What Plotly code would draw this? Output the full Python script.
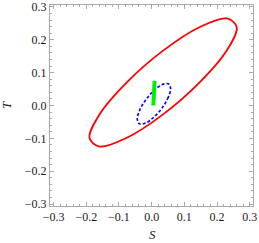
import plotly.graph_objects as go

# Red (outer) contour points
red_s = [0.260, 0.230, 0.1475, 0.035, -0.0775, -0.160, -0.190, -0.160, -0.0775, 0.035, 0.1475, 0.230, 0.260]
red_t = [0.239, 0.168, 0.071, -0.027, -0.099, -0.125, -0.099, -0.028, 0.069, 0.167, 0.239, 0.265, 0.239]

# Blue (dashed) contour points
blue_s = [0.058, 0.051, 0.0325, 0.007, -0.0185, -0.0372, -0.044, -0.0372, -0.0185, 0.007, 0.0325, 0.051, 0.058]
blue_t = [0.052, 0.0255, -0.0065, -0.0354, -0.0536, -0.056, -0.042, -0.0155, 0.0165, 0.0454, 0.0636, 0.066, 0.052]

# Green (narrow) region
green_s = [0.005, 0.009]
green_t = [0.000, 0.075]

tick_vals = [-0.3, -0.2, -0.1, 0.0, 0.1, 0.2, 0.3]

fig = go.Figure()
fig.add_trace(go.Scatter(x=red_s, y=red_t, mode="lines", line=dict(color="#ff0000", width=1.8, shape="spline"), hoverinfo="skip"))
fig.add_trace(go.Scatter(x=blue_s, y=blue_t, mode="lines", line=dict(color="#0000ff", width=1.6, dash="3px,2px", shape="spline"), hoverinfo="skip"))
fig.add_trace(go.Scatter(x=green_s, y=green_t, mode="lines", line=dict(color="#00ee00", width=4), hoverinfo="skip"))

axis_common = dict(
    showgrid=False, zeroline=False, automargin=False,
    showline=True, linecolor="#aaaaaa", linewidth=1, mirror="ticks",
    ticks="inside", ticklen=4, tickcolor="#aaaaaa", tickwidth=1,
    tickvals=tick_vals, tickformat=".1f",
    minor=dict(ticks="inside", ticklen=2, tickcolor="#aaaaaa", dtick=0.02, showgrid=False),
    tickfont=dict(family="Liberation Serif", size=12, color="#1a1a1a"),
)

title_font = dict(family="Liberation Serif", size=13, color="#1a1a1a")

fig.update_layout(
    width=259, height=243,
    margin=dict(l=50, r=6, t=5, b=37),
    paper_bgcolor="white", plot_bgcolor="white",
    showlegend=False,
    xaxis=dict(range=[-0.311, 0.31], **axis_common),
    yaxis=dict(range=[-0.306, 0.306], **axis_common),
    annotations=[
        dict(text="<i>S</i>", xref="paper", yref="paper", x=0.505, y=-0.142, xanchor="center", yanchor="middle",
             showarrow=False, font=title_font),
        dict(text="<i>T</i>", xref="paper", yref="paper", x=-0.214, y=0.5, xanchor="center", yanchor="middle",
             showarrow=False, font=title_font, textangle=-90),
    ],
)

fig.write_html("out.html", config={"displayModeBar": False},
               post_script="document.body.style.margin='0';document.body.style.overflow='hidden';")
